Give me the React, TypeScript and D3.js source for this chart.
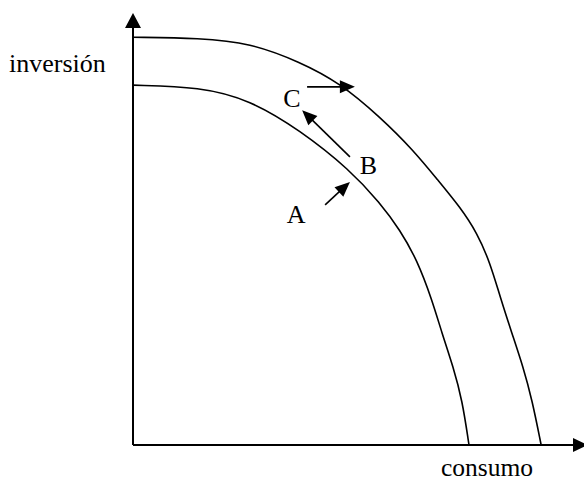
import React from "react";
import * as d3 from "d3";

const width = 584;
const height = 482;
const margin = { top: 13, right: 0, bottom: 37, left: 133 };

// frontier curves, in % of each axis
const outerX = [0, 14.9, 25.9, 37, 45.9, 54.8, 62.1, 67.6, 72.5, 76.3, 79.2, 81.4, 84, 86.5, 88.5, 90.5];
const outerY = [94.4, 94.2, 93.1, 88.7, 83.8, 75.9, 68.3, 61.3, 55.1, 49.1, 42.1, 34.3, 25.9, 18.1, 10.4, 0];
const innerX = [0, 14.9, 25.9, 37, 48.1, 54.8, 59.2, 63, 66.3, 68.5, 71, 73, 74.5];
const innerY = [83.3, 82.9, 79.9, 72.9, 63.7, 56, 49.8, 42.8, 33.6, 25.9, 18.1, 10.4, 0];

// movement arrows [x1, y1, x2, y2]
const arrows = [
  [42.6, 55.6, 48.1, 60.9],
  [48.1, 66.7, 37.5, 77.5],
  [38.6, 82.9, 49.2, 82.9]
];
const pointLabels = ["A", "B", "C"];
const pointX = [34.1, 50.3, 33.3];
const pointY = [51.4, 62.7, 78.2];

const font = "'Liberation Serif', 'Times New Roman', serif";

export default function App() {
  const x = d3
    .scaleLinear()
    .domain([0, 100])
    .range([margin.left, margin.left + 451]);
  const y = d3
    .scaleLinear()
    .domain([0, 100])
    .range([height - margin.bottom, margin.top]);

  const line = d3
    .line<number[]>()
    .x((d) => x(d[0]))
    .y((d) => y(d[1]))
    .curve(d3.curveBasis);

  const outer = outerX.map((v, i) => [v, outerY[i]]);
  const inner = innerX.map((v, i) => [v, innerY[i]]);

  const head = (x1: number, y1: number, x2: number, y2: number, len: number, half: number) => {
    const a = Math.atan2(y2 - y1, x2 - x1);
    const bx = x2 - len * Math.cos(a);
    const by = y2 - len * Math.sin(a);
    const px = -Math.sin(a) * half;
    const py = Math.cos(a) * half;
    return `${x2},${y2} ${bx + px},${by + py} ${bx - px},${by - py}`;
  };

  const x0 = x(0);
  const y0 = y(0);

  return (
    <svg
      width={width}
      height={height}
      style={{ position: "absolute", left: 0, top: 0, background: "#fff" }}
    >
      {/* axes */}
      <g stroke="#000" fill="#000">
        <line x1={x0} y1={y0} x2={x0} y2={y(100) + 10} strokeWidth={2} />
        <polygon points={head(x0, y0, x0, y(100), 15, 8)} stroke="none" />
        <line x1={x0} y1={y0} x2={x(100) - 8} y2={y0} strokeWidth={2} />
        <polygon points={head(x0, y0, x(100) + 4, y0, 15, 7)} stroke="none" />
      </g>
      <path d={line(outer) || ""} fill="none" stroke="#000" strokeWidth={1.6} />
      <path d={line(inner) || ""} fill="none" stroke="#000" strokeWidth={1.6} />
      {arrows.map((a, i) => {
        const [x1, y1, x2, y2] = [x(a[0]), y(a[1]), x(a[2]), y(a[3])];
        const ang = Math.atan2(y2 - y1, x2 - x1);
        return (
          <g key={i}>
            <line
              x1={x1}
              y1={y1}
              x2={x2 - 10 * Math.cos(ang)}
              y2={y2 - 10 * Math.sin(ang)}
              stroke="#000"
              strokeWidth={1.6}
            />
            <polygon points={head(x1, y1, x2, y2, 15, 6.5)} fill="#000" />
          </g>
        );
      })}
      {pointLabels.map((t, i) => (
        <text key={t} x={x(pointX[i])} y={y(pointY[i])} fontFamily={font} fontSize={26}>
          {t}
        </text>
      ))}
      <text x={9} y={72} fontFamily={font} fontSize={26}>
        inversión
      </text>
      <text x={441} y={476} fontFamily={font} fontSize={25.5}>
        consumo
      </text>
    </svg>
  );
}
